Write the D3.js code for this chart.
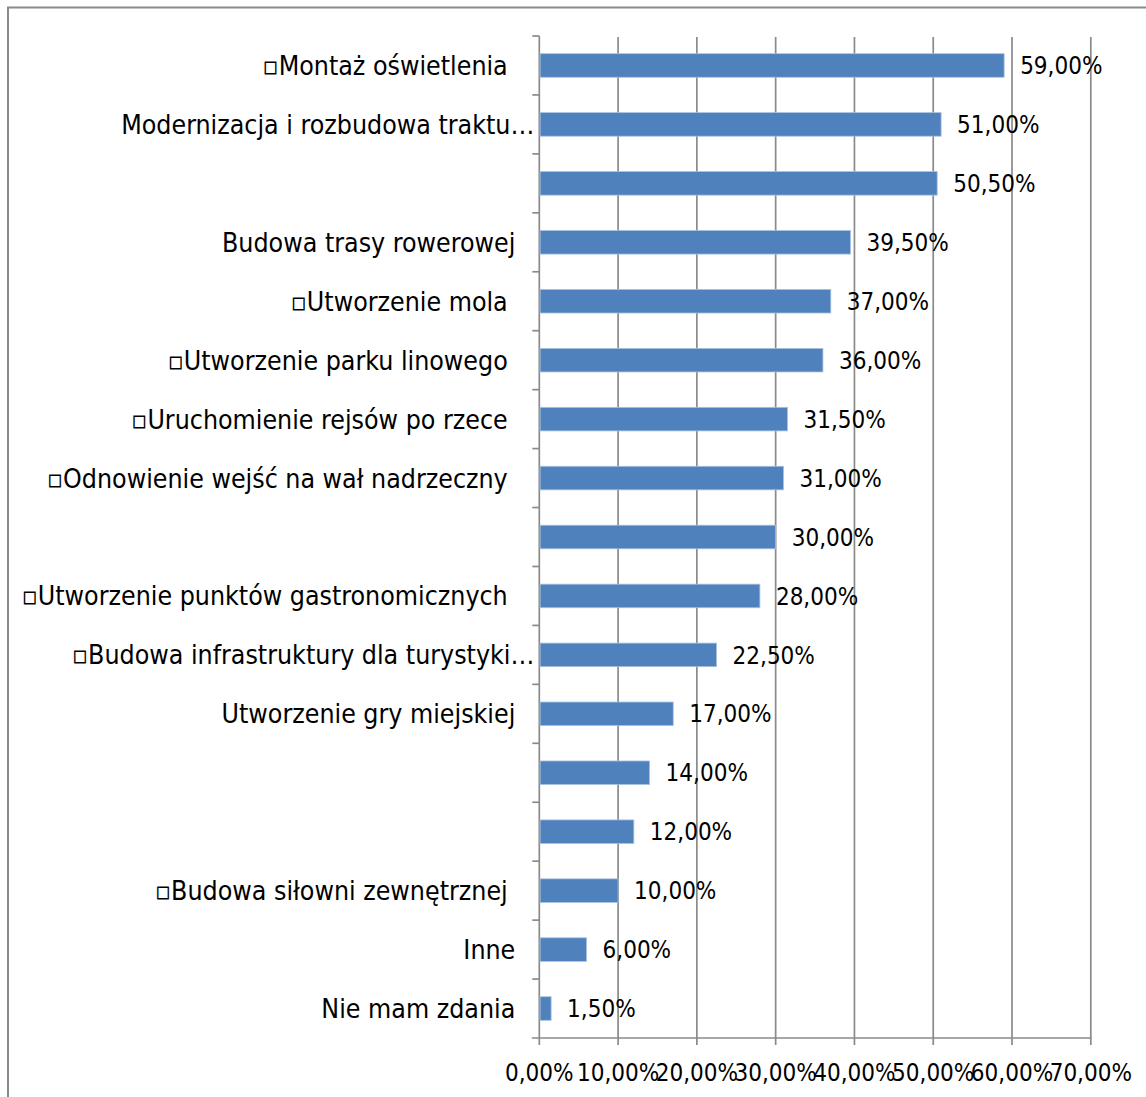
<!DOCTYPE html>
<html>
<head>
<meta charset="utf-8">
<script src="https://cdn.jsdelivr.net/npm/d3@7"></script>
<style>
  html, body { margin: 0; padding: 0; background: #fff; }
  svg text { white-space: pre; }
</style>
</head>
<body>
<div id="chart"></div>
<script>
// Investment options and the share of respondents choosing each one
const categories = [
  "▫Montaż oświetlenia ",
  "Modernizacja i rozbudowa traktu…",
  "",
  "Budowa trasy rowerowej",
  "▫Utworzenie mola ",
  "▫Utworzenie parku linowego ",
  "▫Uruchomienie rejsów po rzece ",
  "▫Odnowienie wejść na wał nadrzeczny ",
  "",
  "▫Utworzenie punktów gastronomicznych ",
  "▫Budowa infrastruktury dla turystyki…",
  "Utworzenie gry miejskiej",
  "",
  "",
  "▫Budowa siłowni zewnętrznej ",
  "Inne",
  "Nie mam zdania"
];
const values = [59, 51, 50.5, 39.5, 37, 36, 31.5, 31, 30, 28, 22.5, 17, 14, 12, 10, 6, 1.5];
const xTicks = [0, 10, 20, 30, 40, 50, 60, 70];

const W = 1146, H = 1097;
const FONT = "'DejaVu Sans Condensed', 'DejaVu Sans', sans-serif";
const gridColor = "#8a8a8a";
const fmt = v => v.toFixed(2).replace(".", ",") + "%";

const svg = d3.select("#chart").append("svg")
  .attr("width", W).attr("height", H);

// chart frame
svg.append("rect")
  .attr("x", 8).attr("y", 7.5)
  .attr("width", W + 20).attr("height", H + 20)
  .attr("fill", "#fff").attr("stroke", "#8a8a8a").attr("stroke-width", 2);

const plot = { left: 539.3, right: 1090.8, top: 36, bottom: 1038 };

const x = d3.scaleLinear().domain([0, 70]).range([plot.left, plot.right]);
const y = d3.scaleBand().domain(d3.range(categories.length))
  .range([plot.top, plot.bottom]).paddingInner(0.6).paddingOuter(0.3);

// vertical gridlines, running past the axis as tick marks
svg.append("g").selectAll("line")
  .data(xTicks.filter(t => t > 0)).join("line")
  .attr("x1", d => x(d)).attr("x2", d => x(d))
  .attr("y1", plot.top + 1).attr("y2", plot.bottom + 7)
  .attr("stroke", gridColor).attr("stroke-width", 1.7);

// bottom axis line and ticks
svg.append("line")
  .attr("x1", plot.left - 7.5).attr("x2", plot.right + 0.8)
  .attr("y1", plot.bottom).attr("y2", plot.bottom)
  .attr("stroke", gridColor).attr("stroke-width", 1.7);
svg.append("line")
  .attr("x1", x(0)).attr("x2", x(0))
  .attr("y1", plot.bottom).attr("y2", plot.bottom + 7)
  .attr("stroke", gridColor).attr("stroke-width", 1.7);

// category axis with ticks at band boundaries
svg.append("line")
  .attr("x1", x(0)).attr("x2", x(0))
  .attr("y1", plot.top).attr("y2", plot.bottom)
  .attr("stroke", gridColor).attr("stroke-width", 1.7);
const step = y.step();
svg.append("g").selectAll("line")
  .data(d3.range(categories.length)).join("line")
  .attr("x1", x(0) - 7).attr("x2", x(0))
  .attr("y1", d => plot.top + d * step).attr("y2", d => plot.top + d * step)
  .attr("stroke", gridColor).attr("stroke-width", 1.7);

// bars
svg.append("g").selectAll("rect")
  .data(values).join("rect")
  .attr("x", x(0) + 0.8)
  .attr("y", (d, i) => y(i))
  .attr("width", d => x(d) - x(0) - 0.8)
  .attr("height", y.bandwidth())
  .attr("fill", "#4f81bd")
  .attr("stroke", "#a9c2e0").attr("stroke-width", 0.8);

// value labels
svg.append("g").selectAll("text")
  .data(values).join("text")
  .attr("x", d => x(d) + 16)
  .attr("y", (d, i) => y(i) + y.bandwidth() / 2)
  .attr("dy", "0.36em")
  .attr("font-family", FONT).attr("font-size", 24)
  .attr("fill", "#000")
  .text(fmt);

// category labels
svg.append("g").selectAll("text")
  .data(categories).join("text")
  .attr("x", d => d.endsWith("…") ? x(0) - 5 : x(0) - 24)
  .attr("y", (d, i) => y(i) + y.bandwidth() / 2)
  .attr("dy", "0.36em")
  .attr("text-anchor", "end")
  .attr("font-family", FONT).attr("font-size", 26.5)
  .attr("fill", "#000")
  .text(d => d);

// x tick labels
svg.append("g").selectAll("text")
  .data(xTicks).join("text")
  .attr("x", d => x(d))
  .attr("y", 1081)
  .attr("text-anchor", "middle")
  .attr("font-family", FONT).attr("font-size", 24)
  .attr("fill", "#000")
  .text(d => fmt(d));
</script>
</body>
</html>
